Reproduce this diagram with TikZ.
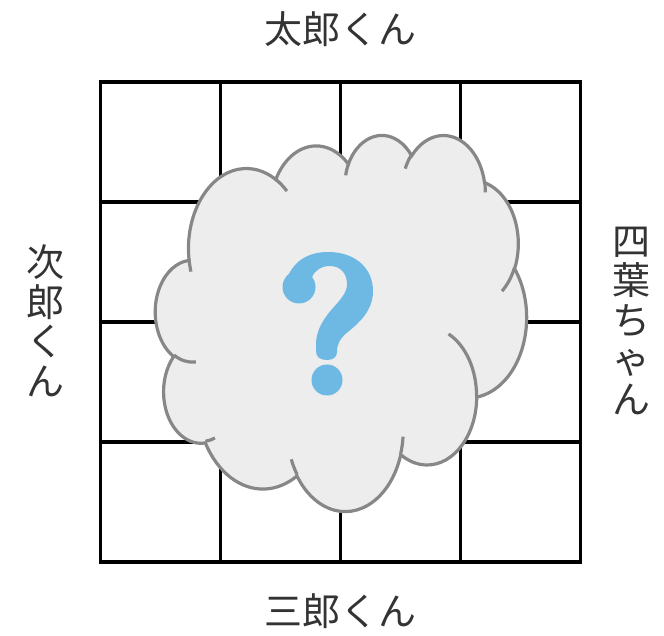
\documentclass[tikz,border=0pt]{standalone}
\usepackage{fontspec}
\newfontfamily\jpfont{Noto Sans CJK JP}
\definecolor{gridc}{HTML}{000000}
\definecolor{cloudfill}{HTML}{EDEDED}
\definecolor{cloudline}{HTML}{878787}
\definecolor{qblue}{HTML}{6DB9E3}
\definecolor{txt}{HTML}{333333}
\newcommand\ooang[5]{%
  \pgfmathsetmacro\ooS{atan2((#2)*sin(#4),(#3)*cos(#4))}%
  \pgfmathsetmacro\ooE{atan2((#2)*sin((#4)+(#5)),(#3)*cos((#4)+(#5)))}%
  \pgfmathsetmacro\ooE{\ooE+360*round((\ooS+(#5)-\ooE)/360)}%
  \expandafter\xdef\csname oo#1s\endcsname{\ooS}%
  \expandafter\xdef\csname oo#1e\endcsname{\ooE}%
}
\tikzset{
  gridline/.style={draw=gridc, line width=3.8pt},
  cloudbody/.style={fill=cloudfill, draw=cloudline, line width=3.2pt},
  cloudstub/.style={draw=cloudline, line width=3.2pt},
  qmark/.style={fill=qblue},
  hlabel/.style={text=txt, font=\jpfont\fontsize{38}{40}\selectfont, inner sep=0pt},
  vlabel/.style={text=txt, font=\jpfont\fontsize{38}{39.5}\selectfont, inner sep=0pt, align=center},
}
\begin{document}
\begin{tikzpicture}[x=1pt,y=1pt]
\useasboundingbox (0,0) rectangle (664,635);
% grid
\draw[gridline, line join=miter] (100.5,73) rectangle (580.5,553);
\foreach \i in {1,2,3}{
  \draw[gridline] (100.5+120*\i,73) -- (100.5+120*\i,553);
  \draw[gridline] (100.5,73+120*\i) -- (580.5,73+120*\i);
}
% cloud angles (visual -> parametric)
\ooang{a}{67.53}{91.90}{-190.4875}{123.7805}
\ooang{b}{53.33}{72.67}{-144.1024}{89.9452}
\ooang{c}{43.65}{59.45}{-145.8079}{99.7230}
\ooang{d}{48.57}{65.95}{-130.9861}{117.2417}
\ooang{e}{53.33}{72.73}{-78.7089}{109.0269}
\ooang{f}{67.75}{92.20}{-46.2673}{130.2690}
\ooang{g}{57.85}{78.67}{0.6250}{114.0333}
\ooang{h}{67.52}{92.15}{22.4516}{115.1726}
\ooang{i}{77.20}{105.43}{66.2426}{75.7110}
\ooang{j}{43.60}{59.18}{-274.9421}{146.7356}
\ooang{k}{43.45}{59.45}{-246.8285}{152.5189}
\ooang{sa}{43.45}{59.45}{86.7420}{26.4295}
\ooang{sb}{43.60}{59.18}{73.6105}{11.4475}
\ooang{sc}{67.52}{92.15}{137.6242}{14.0811}
\ooang{sd}{67.52}{92.15}{6.4533}{15.9984}
\ooang{se}{57.85}{78.67}{-70.2924}{70.9174}
\ooang{sf}{53.33}{72.73}{30.3180}{27.7515}
\ooang{sg}{48.57}{65.95}{-13.7443}{14.8589}
\ooang{sh}{48.57}{65.95}{-149.1815}{18.1954}
\ooang{si}{43.65}{59.45}{-163.4943}{17.6864}
\ooang{sj}{67.53}{91.90}{-66.7070}{12.3194}
\ooang{sk}{67.53}{91.90}{157.6544}{11.8582}
\begin{scope}[shift={(155.5,500.8)}, xscale=0.8588, yscale=-0.8704]
\path[cloudbody] (39.00,143.70)
  arc[x radius=67.53, y radius=91.90, start angle=\ooas, end angle=\ooae]
  arc[x radius=53.33, y radius=72.67, start angle=\oobs, end angle=\oobe]
  arc[x radius=43.65, y radius=59.45, start angle=\oocs, end angle=\ooce]
  arc[x radius=48.57, y radius=65.95, start angle=\oods, end angle=\oode]
  arc[x radius=53.33, y radius=72.73, start angle=\ooes, end angle=\ooee]
  arc[x radius=67.75, y radius=92.20, start angle=\oofs, end angle=\oofe]
  arc[x radius=57.85, y radius=78.67, start angle=\oogs, end angle=\ooge]
  arc[x radius=67.52, y radius=92.15, start angle=\oohs, end angle=\oohe]
  arc[x radius=77.20, y radius=105.43, start angle=\oois, end angle=\ooie]
  arc[x radius=43.60, y radius=59.18, start angle=\oojs, end angle=\ooje]
  arc[x radius=43.45, y radius=59.45, start angle=\ooks, end angle=\ooke]
  -- cycle;
\path[cloudstub] (46.93,261.77) arc[x radius=43.45, y radius=59.45, start angle=\oosas, end angle=\oosae];
\path[cloudstub] (69.28,348.99) arc[x radius=43.60, y radius=59.18, start angle=\oosbs, end angle=\oosbe];
\path[cloudstub] (164.78,390.90) arc[x radius=67.52, y radius=92.15, start angle=\ooscs, end angle=\oosce];
\path[cloudstub] (288.27,347.51) arc[x radius=67.52, y radius=92.15, start angle=\oosds, end angle=\oosde];
\path[cloudstub] (341.29,229.54) arc[x radius=57.85, y radius=78.67, start angle=\ooses, end angle=\oosee];
\path[cloudstub] (417.98,153.54) arc[x radius=53.33, y radius=72.73, start angle=\oosfs, end angle=\oosfe];
\path[cloudstub] (383.24,54.26) arc[x radius=48.57, y radius=65.95, start angle=\oosgs, end angle=\oosge];
\path[cloudstub] (290.78,39.52) arc[x radius=48.57, y radius=65.95, start angle=\ooshs, end angle=\ooshe];
\path[cloudstub] (221.41,47.20) arc[x radius=43.65, y radius=59.45, start angle=\oosis, end angle=\oosie];
\path[cloudstub] (140.00,51.92) arc[x radius=67.53, y radius=91.90, start angle=\oosjs, end angle=\oosje];
\path[cloudstub] (41.27,157.89) arc[x radius=67.53, y radius=91.90, start angle=\oosks, end angle=\ooske];
\end{scope}
% question mark (drawn in image coordinates, y downwards)
\begin{scope}[shift={(0,635)}, yscale=-1]
\path[qmark] (288,276)
  .. controls (296,258) and (312,252) .. (328,252)
  .. controls (355,252) and (373,268) .. (373,291)
  .. controls (373,310) and (360,322) .. (349,331)
  .. controls (340,338) and (337,344) .. (337,352)
  .. controls (337,357) and (333,360) .. (327,360)
  .. controls (320,360) and (316,357) .. (316,351)
  -- (316,344)
  .. controls (316,330) and (324,318) .. (333,308)
  .. controls (342,298) and (347,292) .. (347,284)
  .. controls (347,273) and (340,266) .. (330,266)
  .. controls (322,266) and (315,270) .. (312,277)
  -- (306,290) -- cycle;
\path[qmark] (299,287) circle[radius=16.5];
\path[qmark] (327,380) circle[radius=15.5];
\end{scope}
% labels
\node[hlabel] (top) at (340,606) {太郎くん};
\node[hlabel] (bottom) at (340,24) {三郎くん};
\node[vlabel] (left) at (45,314) {次\\郎\\く\\ん};
\node[vlabel] (right) at (631.5,314.3) {四\\葉\\ち\\ゃ\\ん};
\end{tikzpicture}
\end{document}
